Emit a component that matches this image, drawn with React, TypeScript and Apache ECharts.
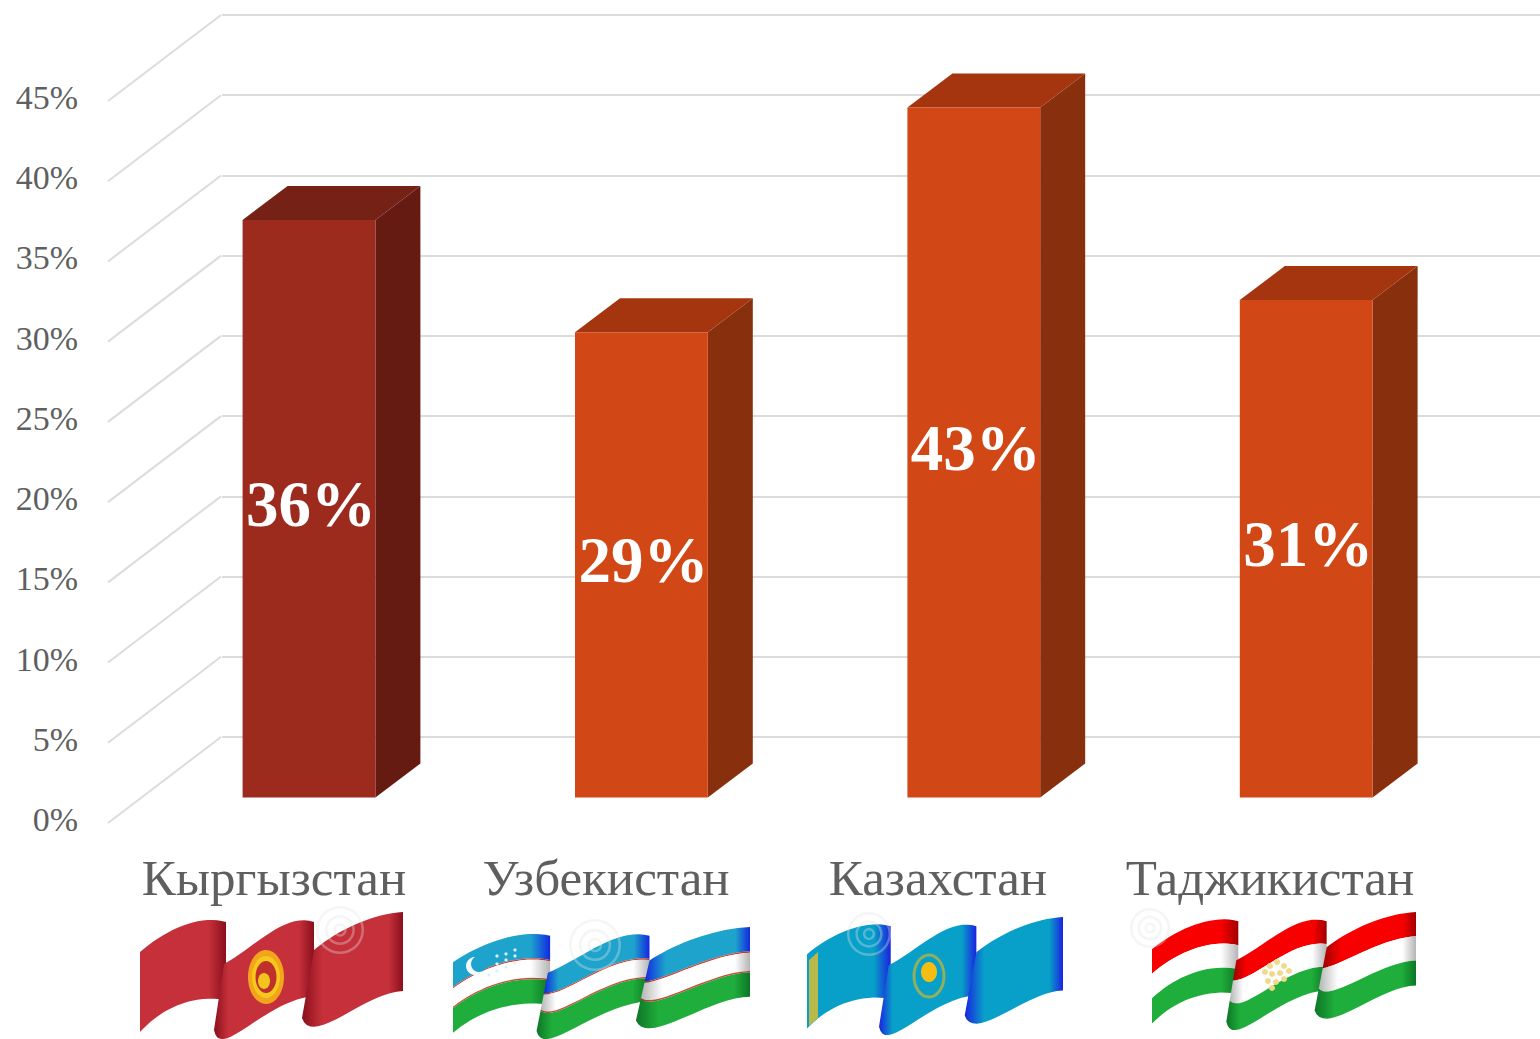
import React, { useEffect, useRef } from "react";
import * as echarts from "echarts";

const categories = ["Кыргызстан", "Узбекистан", "Казахстан", "Таджикистан"];
const shares = [36, 29, 43, 31];
const barFront = ["#9c2b1d", "#d14816", "#d14816", "#d14816"];
const barSide = ["#651a12", "#882f0e", "#882f0e", "#882f0e"];
const barTop = ["#752115", "#a4350f", "#a4350f", "#a4350f"];
const yTicks = [0, 5, 10, 15, 20, 25, 30, 35, 40, 45];

const SERIF = '"Liberation Serif", serif';
const DEPTH_X = 113;
const DEPTH_Y = 86;
const LABEL_LIFT = 3.5;

type Stripe = { from: number; to: number; base: string; dark: string };
type Pt = [number, number];

const wavePanels: { top: Pt[]; bottom: Pt[]; stops: number[] }[] = [
  { top: [[0, 40], [25, 18], [60, 2], [86, 10]], bottom: [[0, 120], [20, 98], [50, 82], [86, 88]], stops: [0, 0, 0.8, 1] },
  { top: [[84, 52], [115, 35], [145, 0], [174, 10]], bottom: [[74, 118], [80, 150], [125, 88], [174, 84]], stops: [0, 0.14, 0.85, 1] },
  { top: [[174, 38], [195, 20], [230, 2], [263, 0]], bottom: [[162, 106], [172, 136], [225, 80], [263, 79]], stops: [0, 0.2, 0.86, 1] },
];

const flagBoxes = [
  { x: 140, y: 912, w: 263, h: 127 },
  { x: 453, y: 927, w: 297, h: 112 },
  { x: 807, y: 917, w: 256, h: 118 },
  { x: 1152, y: 912, w: 264, h: 118 },
];

const kyrgyzStripes: Stripe[] = [{ from: 0, to: 1, base: "#c5303a", dark: "#8a0f1c" }];
const uzbekStripes: Stripe[] = [
  { from: 0, to: 0.35, base: "#1ea4cc", dark: "#1228e0" },
  { from: 0.35, to: 0.37, base: "#cf4a3c", dark: "#b83020" },
  { from: 0.37, to: 0.63, base: "#ffffff", dark: "#b4b4b4" },
  { from: 0.63, to: 0.65, base: "#cf4a3c", dark: "#b83020" },
  { from: 0.65, to: 1, base: "#1fae3b", dark: "#0d7526" },
];
const kazakhStripes: Stripe[] = [{ from: 0, to: 1, base: "#08a0c8", dark: "#1a22e0" }];
const tajikStripes: Stripe[] = [
  { from: 0, to: 0.33, base: "#f80000", dark: "#a00000" },
  { from: 0.33, to: 0.66, base: "#ffffff", dark: "#b4b4b4" },
  { from: 0.66, to: 1, base: "#1fae3b", dark: "#0d7526" },
];
const flagStripes = [kyrgyzStripes, uzbekStripes, kazakhStripes, tajikStripes];

const watermarks = [
  { cx: 340, cy: 930, r: 24 },
  { cx: 595, cy: 945, r: 26 },
  { cx: 869, cy: 934, r: 22 },
  { cx: 1150, cy: 928, r: 20 },
];

function bez(p: Pt[], t: number): Pt {
  const u = 1 - t;
  const f = (i: number) =>
    u * u * u * p[0][i] + 3 * u * u * t * p[1][i] + 3 * u * t * t * p[2][i] + t * t * t * p[3][i];
  return [f(0), f(1)];
}

function flagGraphics(): any[] {
  const out: any[] = [];
  flagBoxes.forEach((box, fi) => {
    const sx = box.w / 263;
    const sy = box.h / 127;
    wavePanels.forEach((panel) => {
      flagStripes[fi].forEach((st) => {
        const pts: number[][] = [];
        const edge = (frac: number, rev: boolean) => {
          for (let k = 0; k <= 18; k++) {
            const t = (rev ? 18 - k : k) / 18;
            const a = bez(panel.top, t);
            const b = bez(panel.bottom, t);
            pts.push([
              box.x + (a[0] + (b[0] - a[0]) * frac) * sx,
              box.y + (a[1] + (b[1] - a[1]) * frac) * sy,
            ]);
          }
        };
        edge(st.from, false);
        edge(st.to, true);
        const [s0, s1, s2, s3] = panel.stops;
        const colorStops =
          s1 === 0
            ? [
                { offset: 0, color: st.base },
                { offset: s2, color: st.base },
                { offset: s3, color: st.dark },
              ]
            : [
                { offset: s0, color: st.dark },
                { offset: s1, color: st.base },
                { offset: s2, color: st.base },
                { offset: s3, color: st.dark },
              ];
        out.push({
          type: "polygon",
          silent: true,
          shape: { points: pts },
          style: { fill: new echarts.graphic.LinearGradient(0, 0, 1, 0, colorStops) },
        });
      });
    });
  });

  const circle = (cx: number, cy: number, r: number, fill: string) => ({
    type: "circle",
    silent: true,
    shape: { cx, cy, r },
    style: { fill },
  });
  const ellipse = (cx: number, cy: number, rx: number, ry: number, fill: string) => ({
    type: "ellipse",
    silent: true,
    shape: { cx, cy, rx, ry },
    style: { fill },
  });

  // Kyrgyz sun
  out.push(ellipse(266, 977, 18, 27, "#f2a51c"));
  out.push(ellipse(266, 977, 14, 21, "#f5c81e"));
  out.push(ellipse(266, 977, 10.5, 16, "#c0302c"));
  out.push(ellipse(264, 981, 6, 8, "#f2c41e"));

  // Uzbek crescent and stars
  out.push(circle(475, 966, 9, "#f4fbff"));
  out.push(circle(479, 964, 8, "#1ea4cc"));
  [
    [497, 956], [506, 954], [515, 950], [497, 964], [506, 960], [515, 956],
    [489, 975], [497, 971], [506, 967], [515, 963],
  ].forEach(([x, y]) => out.push(circle(x, y, 1.6, "#d8f2fa")));

  // Kazakh ornament and sun
  out.push({
    type: "polygon",
    silent: true,
    shape: { points: [[809, 960], [818, 952], [818, 1018], [809, 1026]] },
    style: { fill: "#b9b84a" },
  });
  out.push({
    type: "ellipse",
    silent: true,
    shape: { cx: 929, cy: 976, rx: 15, ry: 21 },
    style: { fill: "none", stroke: "rgba(190,180,60,0.75)", lineWidth: 3 },
  });
  out.push(ellipse(929, 972, 8, 10, "#f5bd12"));

  // Tajik crown
  [
    [1277, 962], [1270, 966], [1284, 966], [1265, 972], [1289, 971],
    [1272, 974], [1280, 973], [1276, 982], [1268, 981], [1284, 979], [1272, 988],
  ].forEach(([x, y]) => out.push(circle(x, y, 3, "#f2d98a")));

  // Stock-photo swirl marks
  watermarks.forEach(({ cx, cy, r }) => {
    [1, 0.62, 0.28].forEach((m) => {
      out.push({
        type: "ring",
        silent: true,
        shape: { cx, cy, r: r * m, r0: r * m - 2.5 },
        style: { fill: "rgba(225,225,225,0.35)" },
      });
    });
  });
  return out;
}

export default function App() {
  const ref = useRef<HTMLDivElement>(null);

  useEffect(() => {
    const chart = echarts.init(ref.current!, undefined, { renderer: "svg" });
    chart.setOption({
      animation: false,
      backgroundColor: "#ffffff",
      grid: [
        { left: 108, top: 101 - LABEL_LIFT, width: 1328, height: 722 },
        { left: 222, top: 15, width: 1318, height: 722 },
      ],
      xAxis: [
        {
          type: "category",
          gridIndex: 0,
          data: categories,
          axisLine: { show: false },
          axisTick: { show: false },
          axisLabel: {
            interval: 0,
            margin: 32.5,
            fontFamily: SERIF,
            fontSize: 51,
            color: "#5f5f5f",
          },
        },
        { type: "category", gridIndex: 1, data: categories, show: false },
      ],
      yAxis: [
        {
          type: "value",
          gridIndex: 0,
          min: 0,
          max: 45,
          interval: 5,
          axisLine: { show: false },
          axisTick: { show: false },
          splitLine: { show: false },
          axisLabel: {
            margin: 30,
            fontFamily: SERIF,
            fontSize: 34,
            color: "#5f5f5f",
            formatter: "{value}%",
          },
        },
        {
          type: "value",
          gridIndex: 1,
          min: 0,
          max: 45,
          interval: 5,
          axisLine: { show: false },
          axisTick: { show: false },
          axisLabel: { show: false },
          splitLine: { show: true, lineStyle: { color: "#dcdcdc", width: 2 } },
        },
      ],
      series: [
        {
          type: "custom",
          name: "floor",
          xAxisIndex: 0,
          yAxisIndex: 0,
          clip: false,
          z: 1,
          silent: true,
          data: yTicks.map((v) => [0, v]),
          renderItem: (params: any, api: any) => {
            const y = api.coord([0, api.value(1)])[1] + LABEL_LIFT;
            const x = params.coordSys.x;
            return {
              type: "line",
              shape: { x1: x, y1: y, x2: x + DEPTH_X, y2: y - DEPTH_Y },
              style: { stroke: "#dcdcdc", lineWidth: 2, fill: "none" },
            };
          },
        },
        {
          type: "custom",
          name: "share",
          xAxisIndex: 0,
          yAxisIndex: 0,
          clip: false,
          z: 3,
          silent: true,
          data: shares.map((v, i) => [i, v]),
          renderItem: (params: any, api: any) => {
            const i = api.value(0);
            const v = api.value(1);
            const top = api.coord([i, v]);
            const base = api.coord([i, 0]);
            const w = api.size([1, 0])[0] * 0.4;
            const shiftX = 35;
            const shiftY = -25.5 + LABEL_LIFT;
            const dx = 45;
            const dy = -34;
            const l = top[0] + shiftX - w / 2 + i * 0.4;
            const r = l + w;
            const t = top[1] + shiftY;
            const b = base[1] + shiftY;
            return {
              type: "group",
              children: [
                {
                  type: "polygon",
                  shape: { points: [[r, t], [r + dx, t + dy], [r + dx, b + dy], [r, b]] },
                  style: { fill: barSide[i] },
                },
                {
                  type: "polygon",
                  shape: { points: [[l, t], [l + dx, t + dy], [r + dx, t + dy], [r, t]] },
                  style: { fill: barTop[i] },
                },
                {
                  type: "rect",
                  shape: { x: l, y: t, width: w, height: b - t },
                  style: { fill: barFront[i] },
                },
                {
                  type: "text",
                  style: {
                    x: (l + r) / 2 + 2,
                    y: (t + b) / 2 - 5,
                    text: `${v}%`,
                    fill: "#ffffff",
                    fontFamily: SERIF,
                    fontWeight: "bold",
                    fontSize: 65,
                    align: "center",
                    verticalAlign: "middle",
                  },
                },
              ],
            };
          },
        },
      ],
      graphic: flagGraphics(),
    });
    return () => chart.dispose();
  }, []);

  return (
    <div
      ref={ref}
      style={{ position: "fixed", left: 0, top: 0, width: 1540, height: 1039 }}
    />
  );
}
